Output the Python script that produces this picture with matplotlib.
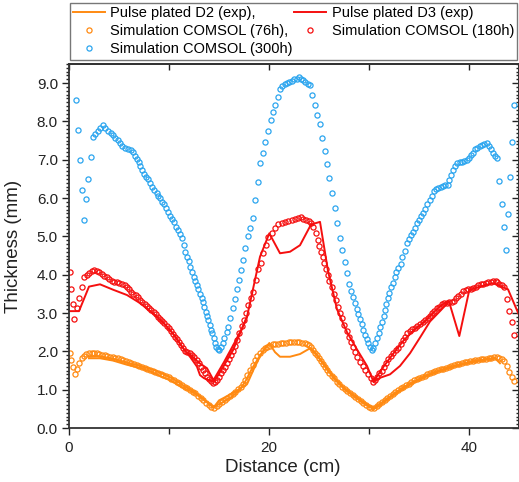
import matplotlib
matplotlib.use("Agg")
import matplotlib.pyplot as plt
from matplotlib.ticker import MultipleLocator, FormatStrFormatter

plt.rcParams['font.family'] = ['Liberation Sans', 'DejaVu Sans']

# simulation COMSOL (300h), points (distance cm, thickness mm)
sim300 = [(0.70, 8.55), (0.93, 7.77), (1.13, 6.99), (1.30, 6.21), (1.47, 5.43), (1.70, 5.97), (1.93, 6.51),
          (2.17, 7.06), (2.37, 7.60), (2.63, 7.67), (2.87, 7.75), (3.10, 7.82), (3.37, 7.91), (3.63, 7.82),
          (3.90, 7.76), (4.17, 7.71), (4.40, 7.64), (4.63, 7.58), (4.90, 7.51), (5.10, 7.43), (5.33, 7.36),
          (5.60, 7.31), (5.87, 7.28), (6.17, 7.25), (6.37, 7.21), (6.57, 7.10), (6.77, 7.02), (6.97, 6.93),
          (7.13, 6.84), (7.30, 6.73), (7.53, 6.63), (7.73, 6.56), (7.93, 6.50), (8.13, 6.40), (8.33, 6.30),
          (8.53, 6.20), (8.77, 6.14), (8.93, 6.05), (9.13, 5.99), (9.33, 5.90), (9.53, 5.84), (9.73, 5.73),
          (9.90, 5.64), (10.13, 5.53), (10.33, 5.45), (10.53, 5.37), (10.70, 5.25), (10.90, 5.17), (11.07, 5.06),
          (11.27, 4.95), (11.47, 4.77), (11.63, 4.60), (11.80, 4.47), (11.97, 4.36), (12.13, 4.21), (12.30, 4.07),
          (12.47, 3.95), (12.63, 3.84), (12.77, 3.73), (12.93, 3.63), (13.10, 3.51), (13.27, 3.40), (13.40, 3.30),
          (13.53, 3.17), (13.67, 3.03), (13.80, 2.93), (13.93, 2.82), (14.07, 2.69), (14.20, 2.57), (14.33, 2.47),
          (14.47, 2.34), (14.60, 2.23), (14.73, 2.12), (14.87, 2.05), (15.00, 2.04), (15.20, 2.12), (15.37, 2.23),
          (15.53, 2.34), (15.77, 2.51), (15.93, 2.64), (16.13, 2.86), (16.37, 3.12), (16.57, 3.36), (16.77, 3.64),
          (16.97, 3.86), (17.17, 4.12), (17.40, 4.38), (17.63, 4.69), (17.87, 5.01), (18.13, 5.21), (18.37, 5.47),
          (18.63, 5.95), (18.87, 6.43), (19.13, 6.91), (19.40, 7.19), (19.63, 7.47), (19.90, 7.75), (20.17, 8.03),
          (20.40, 8.24), (20.63, 8.44), (20.87, 8.64), (21.10, 8.86), (21.33, 8.92), (21.57, 8.97), (21.80, 9.00),
          (22.03, 9.03), (22.27, 9.06), (22.50, 9.10), (22.77, 9.12), (23.03, 9.15), (23.23, 9.12), (23.43, 9.08),
          (23.63, 9.03), (23.87, 8.99), (24.10, 8.94), (24.33, 8.69), (24.60, 8.44), (24.83, 8.18), (25.10, 7.93),
          (25.33, 7.57), (25.57, 7.23), (25.80, 6.88), (26.03, 6.53), (26.30, 6.14), (26.57, 5.75), (26.83, 5.34),
          (27.07, 4.95), (27.30, 4.64), (27.57, 4.34), (27.80, 4.05), (28.03, 3.75), (28.23, 3.58), (28.43, 3.41),
          (28.60, 3.25), (28.77, 3.10), (28.93, 2.97), (29.10, 2.84), (29.27, 2.71), (29.43, 2.57), (29.60, 2.44),
          (29.77, 2.31), (29.93, 2.21), (30.10, 2.12), (30.27, 2.03), (30.43, 2.08), (30.60, 2.21), (30.77, 2.34),
          (30.97, 2.47), (31.13, 2.63), (31.30, 2.77), (31.47, 2.92), (31.58, 3.08), (31.70, 3.24), (31.87, 3.38),
          (32.03, 3.53), (32.20, 3.67), (32.37, 3.79), (32.57, 3.93), (32.73, 4.06), (32.93, 4.17), (33.17, 4.27),
          (33.33, 4.45), (33.57, 4.63), (33.77, 4.82), (34.00, 4.92), (34.20, 5.04), (34.40, 5.12), (34.60, 5.23),
          (34.80, 5.34), (35.03, 5.44), (35.23, 5.53), (35.43, 5.60), (35.63, 5.71), (35.83, 5.84), (36.07, 5.95),
          (36.27, 6.06), (36.50, 6.19), (36.70, 6.23), (36.93, 6.26), (37.17, 6.30), (37.40, 6.32), (37.63, 6.34),
          (37.87, 6.35), (38.03, 6.47), (38.23, 6.60), (38.43, 6.73), (38.63, 6.84), (38.83, 6.91), (39.07, 6.93),
          (39.30, 6.95), (39.53, 6.97), (39.77, 6.99), (39.97, 7.04), (40.17, 7.12), (40.37, 7.19), (40.60, 7.27),
          (40.83, 7.32), (41.07, 7.36), (41.30, 7.38), (41.53, 7.40), (41.77, 7.43), (41.97, 7.36), (42.17, 7.27),
          (42.40, 7.18), (42.63, 7.10), (42.83, 7.04), (43.03, 6.45), (43.27, 5.84), (43.47, 5.25), (43.70, 4.64),
          (43.87, 5.58), (44.07, 6.54), (44.27, 7.47), (44.50, 8.43)]

# simulation COMSOL (180h)
sim180 = [(0.10, 4.06), (0.20, 3.64), (0.37, 3.24), (0.53, 2.84), (0.77, 3.12), (1.03, 3.38), (1.27, 3.69),
          (1.50, 3.95), (1.77, 3.99), (2.03, 4.05), (2.27, 4.10), (2.53, 4.12), (2.77, 4.10), (3.03, 4.06),
          (3.27, 4.02), (3.50, 3.97), (3.77, 3.93), (4.00, 3.88), (4.27, 3.84), (4.50, 3.81), (4.77, 3.80),
          (5.03, 3.79), (5.30, 3.77), (5.57, 3.73), (5.77, 3.67), (6.00, 3.62), (6.20, 3.56), (6.43, 3.51),
          (6.67, 3.46), (6.87, 3.41), (7.10, 3.34), (7.33, 3.29), (7.57, 3.24), (7.80, 3.18), (8.00, 3.14),
          (8.23, 3.08), (8.47, 3.03), (8.70, 2.97), (8.90, 2.91), (9.10, 2.84), (9.33, 2.79), (9.53, 2.73),
          (9.77, 2.66), (10.00, 2.60), (10.20, 2.53), (10.43, 2.45), (10.63, 2.38), (10.83, 2.31), (11.03, 2.24),
          (11.23, 2.16), (11.43, 2.08), (11.63, 2.02), (11.83, 1.98), (12.10, 1.95), (12.30, 1.90), (12.53, 1.84),
          (12.77, 1.77), (12.97, 1.69), (13.17, 1.60), (13.37, 1.51), (13.57, 1.43), (13.77, 1.34), (13.97, 1.27),
          (14.17, 1.22), (14.37, 1.18), (14.57, 1.20), (14.77, 1.25), (14.97, 1.34), (15.17, 1.43), (15.37, 1.51),
          (15.57, 1.60), (15.77, 1.70), (15.97, 1.79), (16.17, 1.90), (16.37, 2.02), (16.60, 2.14), (16.83, 2.30),
          (17.03, 2.49), (17.27, 2.66), (17.47, 2.82), (17.70, 2.99), (17.93, 3.21), (18.18, 3.38), (18.43, 3.56),
          (18.70, 3.86), (18.93, 4.14), (19.20, 4.31), (19.43, 4.56), (19.67, 4.77), (19.93, 4.99), (20.27, 5.10),
          (20.60, 5.21), (20.93, 5.32), (21.27, 5.36), (21.60, 5.38), (21.93, 5.41), (22.27, 5.43), (22.60, 5.45),
          (22.93, 5.48), (23.17, 5.50), (23.43, 5.46), (23.70, 5.43), (23.97, 5.39), (24.20, 5.36), (24.43, 5.25),
          (24.67, 5.08), (24.87, 4.90), (25.03, 4.75), (25.20, 4.60), (25.37, 4.45), (25.53, 4.30), (25.70, 4.14),
          (25.87, 3.99), (26.03, 3.84), (26.27, 3.69), (26.50, 3.51), (26.70, 3.34), (26.90, 3.16), (27.10, 3.01),
          (27.30, 2.86), (27.53, 2.69), (27.77, 2.54), (28.00, 2.38), (28.20, 2.25), (28.43, 2.12), (28.63, 1.99),
          (28.83, 1.86), (29.10, 1.73), (29.37, 1.62), (29.63, 1.51), (29.93, 1.41), (30.20, 1.30), (30.43, 1.21),
          (30.60, 1.25), (30.77, 1.34), (31.03, 1.44), (31.27, 1.50), (31.50, 1.60), (31.70, 1.69), (31.93, 1.79),
          (32.17, 1.88), (32.43, 1.96), (32.67, 2.03), (32.93, 2.10), (33.17, 2.19), (33.37, 2.30), (33.60, 2.38),
          (33.83, 2.47), (34.10, 2.53), (34.33, 2.58), (34.57, 2.62), (34.83, 2.66), (35.10, 2.71), (35.37, 2.77),
          (35.63, 2.82), (35.90, 2.86), (36.10, 2.92), (36.33, 2.99), (36.53, 3.05), (36.77, 3.12), (37.00, 3.17),
          (37.27, 3.23), (37.50, 3.25), (37.77, 3.27), (38.03, 3.28), (38.27, 3.29), (38.50, 3.32), (38.70, 3.39),
          (38.93, 3.45), (39.17, 3.51), (39.43, 3.58), (39.70, 3.61), (39.93, 3.62), (40.17, 3.63), (40.43, 3.65),
          (40.70, 3.69), (40.93, 3.72), (41.17, 3.75), (41.43, 3.77), (41.70, 3.79), (41.93, 3.80), (42.17, 3.82),
          (42.43, 3.84), (42.67, 3.84), (42.83, 3.82), (43.03, 3.77), (43.27, 3.73), (43.50, 3.69), (43.77, 3.36),
          (44.03, 3.05), (44.27, 2.77), (44.53, 2.43)]

# simulation COMSOL (76h)
sim76 = [(0.10, 1.97), (0.20, 1.78), (0.40, 1.60), (0.55, 1.41), (0.77, 1.53), (1.02, 1.70), (1.25, 1.83),
         (1.45, 1.89), (1.73, 1.92), (2.00, 1.95), (2.27, 1.97), (2.53, 1.97), (2.78, 1.95), (3.03, 1.93),
         (3.30, 1.91), (3.57, 1.90), (3.83, 1.88), (4.10, 1.86), (4.37, 1.84), (4.63, 1.83), (4.90, 1.82),
         (5.17, 1.80), (5.43, 1.77), (5.70, 1.76), (5.97, 1.73), (6.23, 1.70), (6.50, 1.68), (6.77, 1.65),
         (7.03, 1.63), (7.30, 1.60), (7.57, 1.57), (7.83, 1.55), (8.10, 1.51), (8.37, 1.49), (8.63, 1.46),
         (8.90, 1.43), (9.17, 1.41), (9.43, 1.38), (9.70, 1.36), (9.97, 1.33), (10.23, 1.29), (10.50, 1.25),
         (10.77, 1.21), (11.03, 1.17), (11.30, 1.12), (11.57, 1.08), (11.83, 1.04), (12.10, 0.99), (12.37, 0.95),
         (12.63, 0.91), (12.90, 0.84), (13.17, 0.78), (13.43, 0.72), (13.70, 0.66), (13.97, 0.61), (14.23, 0.56),
         (14.50, 0.53), (14.77, 0.57), (15.03, 0.63), (15.30, 0.68), (15.57, 0.73), (15.83, 0.78), (16.10, 0.83),
         (16.37, 0.89), (16.63, 0.95), (16.90, 1.01), (17.17, 1.08), (17.40, 1.15), (17.60, 1.25), (17.83, 1.38),
         (18.10, 1.51), (18.37, 1.64), (18.60, 1.77), (18.83, 1.88), (19.10, 1.96), (19.37, 2.03), (19.60, 2.08),
         (19.83, 2.12), (20.10, 2.15), (20.37, 2.18), (20.63, 2.19), (20.90, 2.20), (21.17, 2.21), (21.43, 2.22),
         (21.70, 2.23), (21.97, 2.24), (22.23, 2.24), (22.50, 2.24), (22.77, 2.24), (23.03, 2.24), (23.30, 2.23),
         (23.57, 2.21), (23.83, 2.19), (24.03, 2.16), (24.23, 2.11), (24.43, 2.03), (24.63, 1.96), (24.83, 1.90),
         (25.03, 1.82), (25.23, 1.74), (25.43, 1.66), (25.63, 1.58), (25.83, 1.51), (26.03, 1.44), (26.27, 1.37),
         (26.50, 1.30), (26.77, 1.21), (27.03, 1.14), (27.30, 1.08), (27.57, 1.02), (27.83, 0.97), (28.10, 0.91),
         (28.37, 0.85), (28.63, 0.80), (28.90, 0.75), (29.17, 0.70), (29.43, 0.64), (29.70, 0.59), (29.97, 0.56),
         (30.23, 0.52), (30.50, 0.51), (30.77, 0.57), (31.03, 0.63), (31.30, 0.68), (31.57, 0.73), (31.83, 0.78),
         (32.10, 0.84), (32.37, 0.89), (32.63, 0.94), (32.90, 0.99), (33.17, 1.04), (33.43, 1.08), (33.70, 1.12),
         (33.97, 1.16), (34.23, 1.20), (34.50, 1.24), (34.77, 1.27), (35.03, 1.31), (35.30, 1.34), (35.57, 1.37),
         (35.83, 1.40), (36.10, 1.43), (36.37, 1.46), (36.63, 1.48), (36.90, 1.51), (37.17, 1.53), (37.43, 1.55),
         (37.70, 1.57), (37.97, 1.59), (38.23, 1.61), (38.50, 1.64), (38.77, 1.66), (39.03, 1.68), (39.30, 1.70),
         (39.57, 1.71), (39.83, 1.73), (40.10, 1.74), (40.37, 1.75), (40.63, 1.77), (40.90, 1.78), (41.17, 1.79),
         (41.43, 1.80), (41.70, 1.81), (41.97, 1.82), (42.23, 1.83), (42.50, 1.84), (42.77, 1.84), (43.03, 1.82),
         (43.30, 1.79), (43.55, 1.74), (43.77, 1.62), (44.03, 1.47), (44.27, 1.34), (44.50, 1.23)]

# pulse plated D3 (exp): main scan and the second pass near the minima
d3_scan = [(0.0, 3.05), (1.0, 3.05), (2.0, 3.69), (3.1, 3.75), (4.4, 3.61), (5.8, 3.47), (7.1, 3.26),
           (8.4, 2.99), (9.5, 2.73), (10.5, 2.43), (11.3, 2.12), (12.1, 1.86), (12.8, 1.60), (13.1, 1.38),
           (13.5, 1.30), (14.0, 1.25), (14.5, 1.21), (15.2, 1.50), (16.4, 2.03), (17.8, 2.90), (19.1, 4.47),
           (20.03, 5.08), (21.1, 4.56), (22.1, 4.60), (23.1, 4.77), (24.2, 5.31), (25.1, 5.38), (25.9, 4.10),
           (26.8, 3.10), (27.8, 2.50), (28.8, 2.05), (29.8, 1.62), (30.45, 1.21), (31.1, 1.31), (32.1, 1.40),
           (33.1, 1.62), (34.1, 1.95), (35.1, 2.36), (36.1, 2.78), (37.1, 3.05), (38.0, 3.30), (39.03, 2.40),
           (40.03, 3.60), (41.2, 3.70), (42.4, 3.78), (43.9, 3.62), (45.0, 2.95)]
d3_pass_left = [(12.0, 1.95), (13.0, 1.70), (13.8, 1.56), (14.45, 1.25), (15.5, 1.72), (16.5, 2.20),
                (17.3, 2.60), (17.8, 2.90)]
d3_pass_right = [(30.45, 1.21), (31.45, 1.60), (32.45, 1.95), (33.45, 2.28), (34.5, 2.56), (35.5, 2.76),
                 (36.5, 3.03), (37.3, 3.22), (38.0, 3.30)]

# pulse plated D2 (exp): two passes
d2_scan = [(2.0, 1.82), (3.1, 1.82), (4.4, 1.76), (5.8, 1.65), (7.1, 1.57), (8.4, 1.45), (9.1, 1.36),
           (10.4, 1.21), (11.1, 1.09), (12.4, 0.93), (13.4, 0.76), (14.45, 0.53), (15.0, 0.72), (15.8, 0.83),
           (16.8, 0.98), (17.8, 1.14), (18.5, 1.55), (19.2, 1.92), (20.03, 2.21), (20.6, 1.98), (21.1, 1.86),
           (22.1, 1.86), (23.1, 1.93), (24.1, 2.08), (24.7, 1.93), (25.5, 1.64), (26.5, 1.29), (27.5, 1.02),
           (28.5, 0.82), (29.5, 0.64), (30.45, 0.49), (31.2, 0.61), (32.1, 0.79), (33.1, 0.97), (34.1, 1.13),
           (35.1, 1.27), (36.1, 1.39), (37.1, 1.49), (38.1, 1.57), (39.1, 1.65), (40.1, 1.71), (41.1, 1.76),
           (42.1, 1.80), (42.6, 1.82), (43.1, 1.69)]
d2_pass_left = [(2.0, 1.86), (3.1, 1.87), (4.4, 1.81), (5.8, 1.71), (7.1, 1.62), (8.4, 1.52), (9.5, 1.40),
                (10.5, 1.27), (11.5, 1.10), (12.5, 0.96), (13.5, 0.74), (14.45, 0.55), (15.3, 0.66),
                (16.2, 0.80), (17.0, 0.98), (17.6, 1.20), (18.3, 1.55), (19.0, 1.85), (19.6, 2.08), (20.03, 2.21)]
d2_pass_right = [(24.1, 2.08), (24.5, 2.00), (25.5, 1.68), (26.5, 1.33), (27.5, 1.05), (28.5, 0.86),
                 (29.5, 0.67), (30.45, 0.52), (31.3, 0.67), (32.3, 0.86), (33.3, 1.04), (34.3, 1.19),
                 (35.3, 1.32), (36.3, 1.44), (37.3, 1.53), (38.3, 1.61), (39.3, 1.68), (40.3, 1.74),
                 (41.3, 1.78), (42.3, 1.82), (42.6, 1.83)]

c_orange = '#ff8a12'
c_red = '#f50f0f'
c_blue = '#2ba5ef'


def xy(pts):
    return [p[0] for p in pts], [p[1] for p in pts]


fig = plt.figure(figsize=(5.19, 4.82), dpi=100)
ax = fig.add_axes([69 / 519, 54 / 482, 449.5 / 519, 364 / 482])

lw = 1.4
h_d2, = ax.plot(*xy(d2_scan), color=c_orange, lw=lw, label='Pulse plated D2 (exp),')
ax.plot(*xy(d2_pass_left), color=c_orange, lw=lw)
ax.plot(*xy(d2_pass_right), color=c_orange, lw=lw)
h_d3, = ax.plot(*xy(d3_scan), color=c_red, lw=lw, label='Pulse plated D3 (exp)')
ax.plot(*xy(d3_pass_left), color=c_red, lw=lw)
ax.plot(*xy(d3_pass_right), color=c_red, lw=lw)

mk = dict(marker='o', ls='none', mfc='none', ms=3.7, mew=0.9)
h_76, = ax.plot(*xy(sim76), mec=c_orange, label='Simulation COMSOL (76h),', **mk)
h_180, = ax.plot(*xy(sim180), mec=c_red, label='Simulation COMSOL (180h)', **mk)
h_300, = ax.plot(*xy(sim300), mec=c_blue, label='Simulation COMSOL (300h)', **mk)

ax.set_xlim(0, 44.95)
ax.set_ylim(0, 9.5)

ax.xaxis.set_major_locator(MultipleLocator(20))
ax.xaxis.set_minor_locator(MultipleLocator(10))
ax.yaxis.set_major_locator(MultipleLocator(1))
ax.yaxis.set_minor_locator(MultipleLocator(0.1))
ax.yaxis.set_major_formatter(FormatStrFormatter('%.1f'))

spine_c = '#333333'
for s in ax.spines.values():
    s.set_color(spine_c)
    s.set_linewidth(1.3)

ax.tick_params(which='both', direction='out', colors='#222222', labelsize=11, width=1.0)
ax.tick_params(axis='y', which='major', length=5, pad=3)
ax.tick_params(axis='y', which='minor', length=2.5)
ax.tick_params(axis='x', which='major', length=5, pad=4)
ax.tick_params(axis='x', which='minor', length=4.5)

top = ax.secondary_xaxis('top')
top.xaxis.set_major_locator(MultipleLocator(10))
top.tick_params(direction='in', length=4, width=1.0, colors='#222222', labeltop=False)
top.spines['top'].set_color(spine_c)
top.spines['top'].set_linewidth(1.3)

right = ax.secondary_yaxis('right')
right.yaxis.set_major_locator(MultipleLocator(1))
right.yaxis.set_minor_locator(MultipleLocator(0.1))
right.tick_params(which='major', direction='in', length=5, width=1.0, colors='#222222', labelright=False)
right.tick_params(which='minor', direction='in', length=2.5, width=1.0, colors='#222222')
right.spines['right'].set_color(spine_c)
right.spines['right'].set_linewidth(1.3)

ax.set_xlabel('Distance (cm)', fontsize=13.5, color='#222222')
ax.set_ylabel('Thickness (mm)', fontsize=13.5, color='#222222')
ax.xaxis.set_label_coords(0.475, -0.085)
ax.yaxis.set_label_coords(-0.105, 0.5)

leg = fig.legend(handles=[h_d2, h_76, h_300, h_d3, h_180], ncol=2, loc='upper left',
                 bbox_to_anchor=(70 / 519, 1 - 2.5 / 482), bbox_transform=fig.transFigure,
                 fontsize=10.5, frameon=True, fancybox=False, borderaxespad=0, borderpad=0.22,
                 handlelength=2.2, handletextpad=0.35, columnspacing=0.1, labelspacing=0.3,
                 numpoints=1)
leg.get_frame().set_edgecolor('#555555')
leg.get_frame().set_linewidth(1.0)

fig.savefig('out.png', dpi=100)
